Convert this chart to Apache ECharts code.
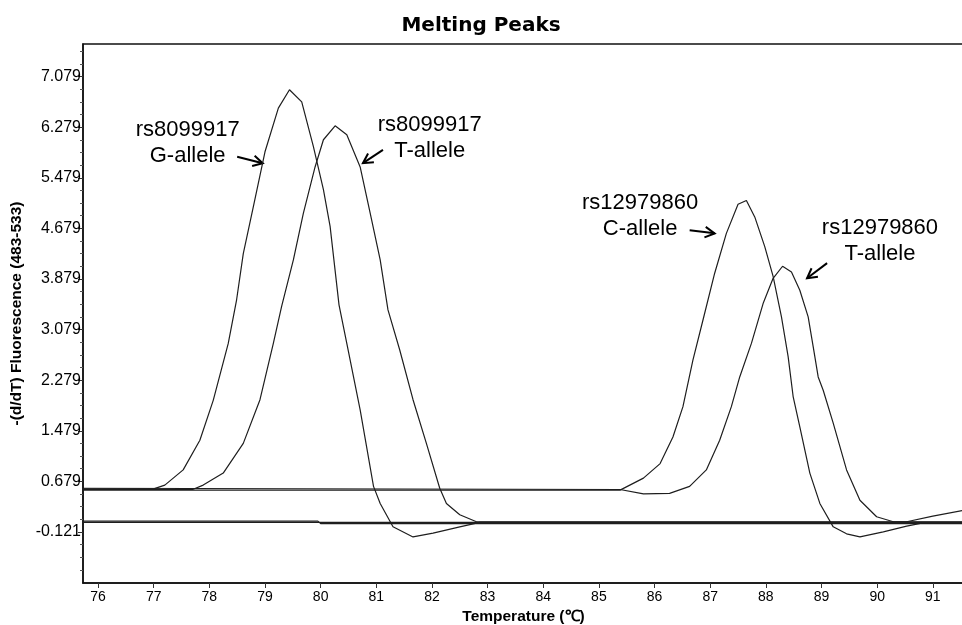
<!DOCTYPE html>
<html>
<head>
<meta charset="UTF-8">
<title>Melting Peaks</title>
<script src="https://cdn.jsdelivr.net/npm/echarts@6/dist/echarts.min.js"></script>
<style>
  html, body { margin: 0; padding: 0; background: #fff; }
  #main { width: 962px; height: 625px; }
</style>
</head>
<body>
<div id="main"></div>
<script>
// tick labels
var xTicks = [76, 77, 78, 79, 80, 81, 82, 83, 84, 85, 86, 87, 88, 89, 90, 91];
var yTicks = [-0.121, 0.679, 1.479, 2.279, 3.079, 3.879, 4.679, 5.479, 6.279, 7.079];

// rs8099917 G-allele
var gTemp = [75.73, 77.0, 77.2, 77.53, 77.83, 78.07, 78.34, 78.49, 78.61, 78.79, 79.0, 79.24, 79.44, 79.66, 79.87, 80.05, 80.17, 80.33, 80.47, 80.71, 80.95, 81.07, 81.3, 81.66, 82.02, 82.5, 82.86, 91.6];
var gVal  = [0.56, 0.56, 0.62, 0.86, 1.33, 1.96, 2.86, 3.55, 4.28, 5.02, 5.89, 6.58, 6.87, 6.68, 5.97, 5.29, 4.71, 3.47, 2.86, 1.81, 0.6, 0.33, -0.04, -0.2, -0.14, -0.04, 0.03, 0.03];

// rs8099917 T-allele
var tATemp = [75.73, 77.7, 77.89, 78.25, 78.61, 78.91, 79.15, 79.3, 79.51, 79.69, 79.9, 80.05, 80.26, 80.47, 80.71, 80.89, 81.07, 81.21, 81.42, 81.66, 81.9, 82.14, 82.26, 82.5, 82.8, 91.6];
var tAVal  = [0.55, 0.55, 0.62, 0.81, 1.28, 1.97, 2.86, 3.45, 4.18, 4.92, 5.65, 6.08, 6.3, 6.16, 5.65, 4.92, 4.18, 3.39, 2.76, 1.97, 1.28, 0.57, 0.33, 0.15, 0.04, 0.04];

// rs12979860 C-allele
var cTemp = [75.73, 85.38, 85.8, 86.1, 86.33, 86.51, 86.69, 86.87, 87.08, 87.29, 87.5, 87.65, 87.8, 87.98, 88.13, 88.28, 88.4, 88.49, 88.61, 88.79, 88.97, 89.21, 89.45, 89.69, 90.11, 90.53, 90.8, 91.6];
var cVal  = [0.54, 0.54, 0.73, 0.96, 1.38, 1.86, 2.6, 3.23, 3.97, 4.6, 5.06, 5.12, 4.86, 4.39, 3.92, 3.28, 2.65, 2.02, 1.54, 0.81, 0.33, -0.04, -0.15, -0.2, -0.12, -0.03, 0.02, 0.02];

// rs12979860 T-allele
var tBTemp = [75.73, 85.38, 85.8, 86.27, 86.63, 86.93, 87.17, 87.38, 87.53, 87.74, 87.95, 88.13, 88.3, 88.46, 88.61, 88.76, 88.85, 88.94, 89.03, 89.21, 89.45, 89.69, 89.99, 90.29, 90.53, 91.0, 91.6];
var tBVal  = [0.57, 0.55, 0.48, 0.49, 0.6, 0.86, 1.33, 1.86, 2.33, 2.86, 3.49, 3.89, 4.08, 3.99, 3.7, 3.28, 2.81, 2.33, 2.12, 1.6, 0.86, 0.38, 0.12, 0.04, 0.04, 0.13, 0.23];

// flat traces (controls)
var n1Temp = [75.73, 91.6];
var n1Val  = [0.03, 0.03];
var n2Temp = [75.73, 79.95, 80.0, 91.6];
var n2Val  = [0.05, 0.05, 0.01, 0.01];

// annotations: text centre, arrow tail, arrow head (data coords)
var annText = ['rs8099917\nG-allele', 'rs8099917\nT-allele', 'rs12979860\nC-allele', 'rs12979860\nT-allele'];
var annPos  = [[77.61, 6.03], [81.96, 6.11], [85.74, 4.87], [90.05, 4.48]];
var annTail = [[78.5, 5.81], [81.12, 5.92], [86.63, 4.65], [89.1, 4.13]];
var annHead = [[78.96, 5.71], [80.76, 5.71], [87.08, 4.6], [88.74, 3.89]];

function zip(a, b) {
  var out = [];
  for (var i = 0; i < a.length; i++) out.push([a[i], b[i]]);
  return out;
}

var minorTicks = [];
yTicks.forEach(function (m) {
  [-0.6, -0.4, -0.2].forEach(function (d) { minorTicks.push(+(m + d).toFixed(3)); });
});
[0.2, 0.4].forEach(function (d) { minorTicks.push(+(7.079 + d).toFixed(3)); });

function trace(name, t, v) {
  return {
    name: name,
    type: 'line',
    data: zip(t, v),
    showSymbol: false,
    symbol: 'none',
    clip: true,
    lineStyle: { color: '#1e1e1e', width: 1.2 },
    animation: false
  };
}

var chart = echarts.init(document.getElementById('main'));
chart.setOption({
  animation: false,
  backgroundColor: '#fff',
  title: {
    text: 'Melting Peaks',
    left: 'center',
    top: 11,
    textStyle: { fontFamily: 'DejaVu Sans', fontWeight: 'bold', fontSize: 20, color: '#000' }
  },
  grid: {
    left: 83, top: 44, right: -2, bottom: 42,
    containLabel: false,
    outerBoundsMode: 'none',
    show: true, borderColor: '#111', borderWidth: 1.5
  },
  xAxis: {
    type: 'value',
    min: 75.73, max: 91.56,
    name: 'Temperature (\u2103)',
    nameLocation: 'middle',
    nameGap: 23,
    nameTextStyle: { fontFamily: 'Liberation Sans', fontWeight: 'bold', fontSize: 15.5, color: '#000' },
    axisLine: { show: true, onZero: false, lineStyle: { color: '#111', width: 1.5 } },
    axisTick: { show: true, customValues: xTicks, length: 5, lineStyle: { color: '#333' } },
    axisLabel: {
      customValues: xTicks, margin: 7,
      fontFamily: 'Liberation Sans Narrow, Liberation Sans', fontSize: 14, color: '#000'
    },
    splitLine: { show: false }
  },
  yAxis: [{
    type: 'value',
    min: -0.928, max: 7.594,
    position: 'left',
    name: '-(d/dT) Fluorescence (483-533)',
    nameLocation: 'middle',
    nameGap: 57,
    nameTextStyle: { fontFamily: 'Liberation Sans', fontWeight: 'bold', fontSize: 15.5, color: '#000' },
    axisLine: { show: true, onZero: false, lineStyle: { color: '#111', width: 1.5 } },
    axisTick: { show: true, customValues: yTicks, length: 5, lineStyle: { color: '#333' } },
    axisLabel: {
      customValues: yTicks, margin: 2,
      fontFamily: 'Liberation Sans', fontSize: 16, color: '#000',
      formatter: function (v) { return v.toFixed(3); }
    },
    splitLine: { show: false }
  }, {
    type: 'value',
    min: -0.928, max: 7.594,
    position: 'left',
    axisLine: { show: false, onZero: false },
    axisTick: { show: true, customValues: minorTicks, length: 3, lineStyle: { color: '#555' } },
    axisLabel: { show: false },
    splitLine: { show: false }
  }],
  series: [
    trace('neg1', n1Temp, n1Val),
    trace('neg2', n2Temp, n2Val),
    trace('rs8099917 G-allele', gTemp, gVal),
    trace('rs8099917 T-allele', tATemp, tAVal),
    trace('rs12979860 C-allele', cTemp, cVal),
    trace('rs12979860 T-allele', tBTemp, tBVal)
  ]
});

// annotation labels and arrows
var graphics = [];
for (var i = 0; i < annText.length; i++) {
  var p = chart.convertToPixel({ gridIndex: 0 }, annPos[i]);
  var a = chart.convertToPixel({ gridIndex: 0 }, annTail[i]);
  var b = chart.convertToPixel({ gridIndex: 0 }, annHead[i]);
  graphics.push({
    type: 'text', x: p[0], y: p[1],
    style: {
      text: annText[i], align: 'center', verticalAlign: 'middle',
      font: '22px "Liberation Sans"', lineHeight: 26, fill: '#000'
    }
  });
  var ang = Math.atan2(b[1] - a[1], b[0] - a[0]);
  var L = 11, w = 0.5;
  var h1 = [b[0] - L * Math.cos(ang - w), b[1] - L * Math.sin(ang - w)];
  var h2 = [b[0] - L * Math.cos(ang + w), b[1] - L * Math.sin(ang + w)];
  graphics.push({
    type: 'polyline', shape: { points: [a, b] },
    style: { stroke: '#000', lineWidth: 2, fill: null }
  });
  graphics.push({
    type: 'polyline', shape: { points: [h1, b, h2] },
    style: { stroke: '#000', lineWidth: 2, fill: null }
  });
}
chart.setOption({ graphic: graphics });
</script>
</body>
</html>
